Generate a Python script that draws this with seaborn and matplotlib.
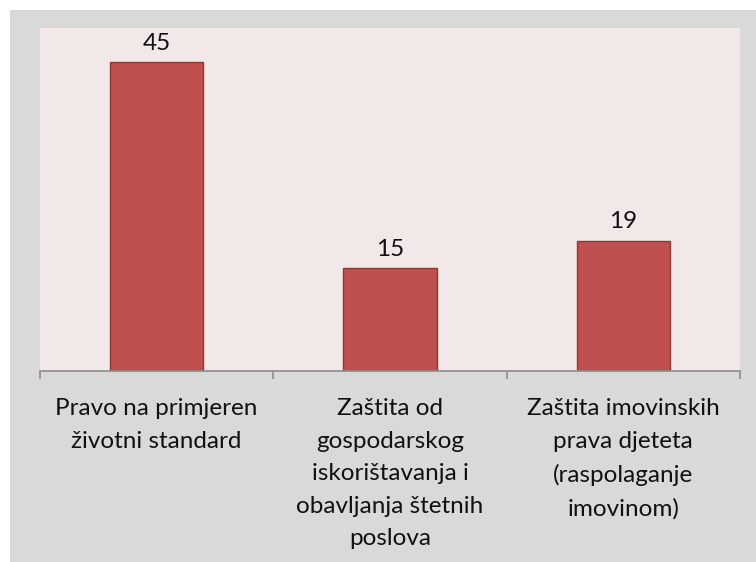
import matplotlib
matplotlib.use("Agg")
import matplotlib.pyplot as plt
import seaborn as sns
import pandas as pd
from matplotlib.patches import Rectangle

categories = ["Pravo na primjeren\nživotni standard",
              "Zaštita od\ngospodarskog\niskorištavanja i\nobavljanja štetnih\nposlova",
              "Zaštita imovinskih\nprava djeteta\n(raspolaganje\nimovinom)"]
values = [45, 15, 19]

df = pd.DataFrame({"cat": categories, "val": values})

sns.set_theme(style="white")
plt.rcParams['font.family'] = ['Lato', 'DejaVu Sans']

fig = plt.figure(figsize=(7.56, 5.62), dpi=100)
fig.patch.set_facecolor("white")
W, H = 756, 562
fig.patches.append(Rectangle((10 / W, 0), 1 - 10 / W, 1 - 10 / H, transform=fig.transFigure,
                             facecolor="#D9D9D9", edgecolor="none", zorder=-10))

ax = fig.add_axes([40 / W, 1 - 371 / H, 700 / W, 343 / H])
ax.set_facecolor("#F2E8E7")
sns.barplot(data=df, x="cat", y="val", ax=ax, color="#C0504D", width=0.4,
            edgecolor="#8C3A38", linewidth=1.0, saturation=1)
ax.set_ylim(0, 50)
ax.set_xlim(-0.5, 2.5)
ax.set_yticks([])
ax.set_xlabel("")
ax.set_ylabel("")
for s in ["top", "right", "left"]:
    ax.spines[s].set_visible(False)
ax.spines["bottom"].set_color("#8C8C8C")
ax.spines["bottom"].set_linewidth(1.2)
ax.set_xticks([-0.5, 0.5, 1.5, 2.5], minor=False)
ax.set_xticklabels([])
ax.tick_params(axis="x", which="major", length=6, color="#8C8C8C", width=1.2, bottom=True)
ax.set_xticks([0, 1, 2], minor=True)
ax.set_xticklabels(categories, minor=True, fontsize=17.5, color="#111111", linespacing=1.68)
ax.tick_params(axis="x", which="minor", length=0, pad=19.5)

for i, v in enumerate(values):
    ax.annotate(str(v), (i, v), xytext=(0, 6), textcoords="offset points",
                ha="center", va="bottom", fontsize=17.5, color="#111111")

fig.savefig("out.png", dpi=100)
